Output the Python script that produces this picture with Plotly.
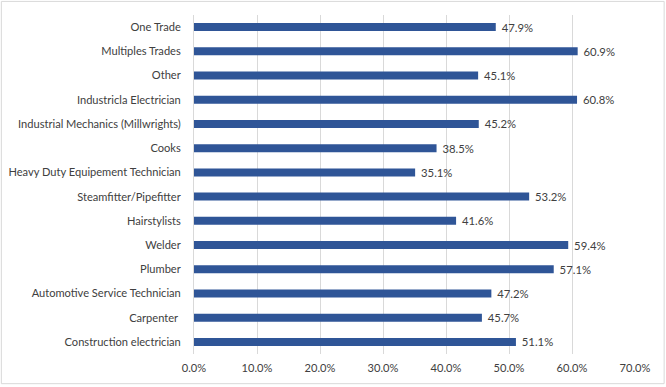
import plotly.graph_objects as go

categories = [
    "One Trade", "Multiples Trades", "Other", "Industricla Electrician",
    "Industrial Mechanics (Millwrights)", "Cooks", "Heavy Duty Equipement Technician",
    "Steamfitter/Pipefitter", "Hairstylists", "Welder", "Plumber",
    "Automotive Service Technician", "Carpenter ", "Construction electrician",
]
values = [47.9, 60.9, 45.1, 60.8, 45.2, 38.5, 35.1, 53.2, 41.6, 59.4, 57.1, 47.2, 45.7, 51.1]
tick_vals = [0, 10, 20, 30, 40, 50, 60, 70]
tick_text = [f"{v:.1f}%" for v in tick_vals]

W, H = 666, 387
ml, mr, mt, mb = 193.5, 30.7, 14.6, 33.2
pw, ph = W - ml - mr, H - mt - mb
FONT = "Lato, Carlito, sans-serif"

fig = go.Figure(go.Bar(
    y=categories, x=values, orientation="h",
    marker=dict(color="#2F5597", line=dict(width=0)),
    width=0.33,
    text=[f"\u00a0{v:.1f}%" for v in values], textposition="outside",
    textfont=dict(family=FONT, size=11.3, color="#404040"),
    constraintext="none",
    cliponaxis=False,
    hoverinfo="skip",
))

fig.update_layout(
    width=W, height=H, autosize=False,
    margin=dict(l=ml, r=mr, t=mt, b=mb, pad=0),
    paper_bgcolor="white", plot_bgcolor="white",
    font=dict(family=FONT, size=11.1, color="#404040"),
    showlegend=False,
    xaxis=dict(range=[0, 70], tickvals=tick_vals, ticktext=tick_text,
               showgrid=True, gridcolor="#D9D9D9", gridwidth=1, automargin=False,
               zeroline=False, showline=False, ticks="", ticklabelstandoff=6),
    yaxis=dict(autorange="reversed", showgrid=False, zeroline=False, automargin=False,
               showline=True, linecolor="#D9D9D9", linewidth=1,
               ticks="", ticklabelstandoff=10),
    shapes=[dict(type="rect", xref="paper", yref="paper",
                 x0=(0.5 - ml) / pw, x1=(W - 1.5 - ml) / pw,
                 y0=-(mb - 3.5) / ph, y1=1 + (mt - 1) / ph,
                 line=dict(color="#D9D9D9", width=1))],
)

fig.write_html("out.html", config={"displayModeBar": False, "staticPlot": True},
               post_script="document.body.style.margin='0';document.body.style.overflow='hidden';")
